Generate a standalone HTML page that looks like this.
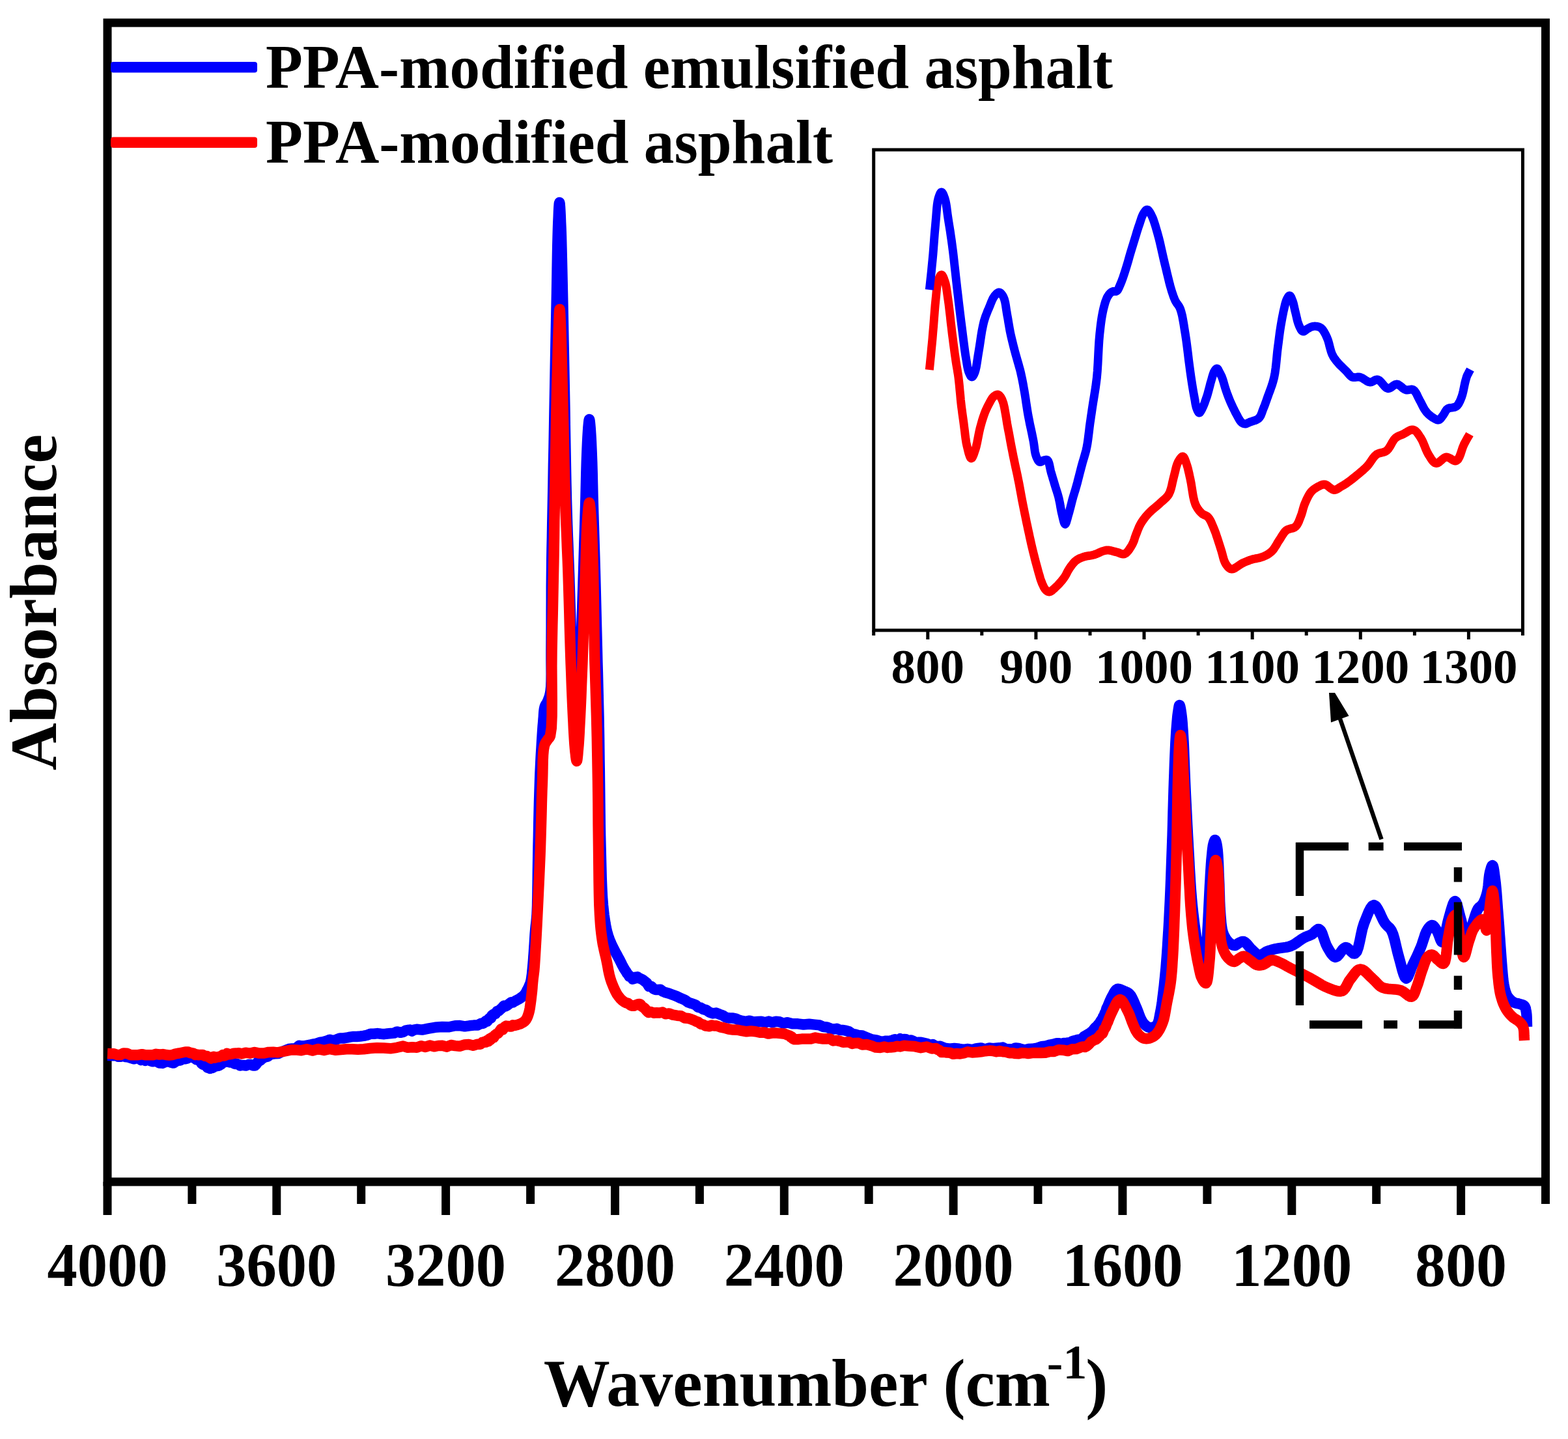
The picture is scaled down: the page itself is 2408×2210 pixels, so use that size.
<!DOCTYPE html>
<html><head><meta charset="utf-8"><title>FTIR spectra</title>
<style>
html,body{margin:0;padding:0;background:#fff;}
svg{display:block;}
.t{font-family:"Liberation Serif","Times New Roman",serif;font-weight:bold;fill:#000;}
</style></head>
<body>
<svg width="2408" height="2210" viewBox="0 0 2408 2210">
<rect x="0" y="0" width="2408" height="2210" fill="#fff"/>
<rect x="165.0" y="35.0" width="2208.5" height="1780.0" fill="none" stroke="#000" stroke-width="13"/>
<line x1="165.0" y1="1815.0" x2="165.0" y2="1866" stroke="#000" stroke-width="13"/>
<line x1="294.9" y1="1815.0" x2="294.9" y2="1849" stroke="#000" stroke-width="13"/>
<line x1="424.8" y1="1815.0" x2="424.8" y2="1866" stroke="#000" stroke-width="13"/>
<line x1="554.7" y1="1815.0" x2="554.7" y2="1849" stroke="#000" stroke-width="13"/>
<line x1="684.6" y1="1815.0" x2="684.6" y2="1866" stroke="#000" stroke-width="13"/>
<line x1="814.6" y1="1815.0" x2="814.6" y2="1849" stroke="#000" stroke-width="13"/>
<line x1="944.5" y1="1815.0" x2="944.5" y2="1866" stroke="#000" stroke-width="13"/>
<line x1="1074.4" y1="1815.0" x2="1074.4" y2="1849" stroke="#000" stroke-width="13"/>
<line x1="1204.3" y1="1815.0" x2="1204.3" y2="1866" stroke="#000" stroke-width="13"/>
<line x1="1334.2" y1="1815.0" x2="1334.2" y2="1849" stroke="#000" stroke-width="13"/>
<line x1="1464.1" y1="1815.0" x2="1464.1" y2="1866" stroke="#000" stroke-width="13"/>
<line x1="1594.0" y1="1815.0" x2="1594.0" y2="1849" stroke="#000" stroke-width="13"/>
<line x1="1723.9" y1="1815.0" x2="1723.9" y2="1866" stroke="#000" stroke-width="13"/>
<line x1="1853.9" y1="1815.0" x2="1853.9" y2="1849" stroke="#000" stroke-width="13"/>
<line x1="1983.8" y1="1815.0" x2="1983.8" y2="1866" stroke="#000" stroke-width="13"/>
<line x1="2113.7" y1="1815.0" x2="2113.7" y2="1849" stroke="#000" stroke-width="13"/>
<line x1="2243.6" y1="1815.0" x2="2243.6" y2="1866" stroke="#000" stroke-width="13"/>
<line x1="2373.5" y1="1815.0" x2="2373.5" y2="1849" stroke="#000" stroke-width="13"/>
<path d="M165.0,1621.0 L168.3,1621.1 L171.6,1621.2 L174.9,1621.3 L178.2,1620.3 L181.6,1622.8 L185.0,1622.8 L189.0,1621.7 L193.1,1623.1 L197.3,1623.7 L201.6,1625.1 L205.7,1626.3 L209.7,1624.7 L213.2,1625.0 L216.5,1628.1 L219.7,1627.3 L223.0,1628.9 L226.4,1626.9 L230.0,1628.8 L234.6,1630.3 L239.5,1629.5 L244.5,1632.5 L249.5,1632.9 L254.4,1630.5 L259.0,1630.5 L262.8,1631.8 L266.4,1632.6 L270.0,1630.1 L273.5,1628.7 L276.8,1628.5 L280.0,1626.5 L282.5,1626.4 L285.0,1626.2 L287.3,1625.5 L289.6,1623.8 L291.8,1623.3 L294.0,1623.1 L295.9,1624.1 L297.8,1624.0 L299.6,1623.7 L301.4,1627.2 L303.2,1627.2 L305.0,1628.5 L307.3,1628.6 L309.6,1633.3 L311.9,1635.1 L314.2,1634.9 L316.6,1637.3 L318.9,1639.7 L320.7,1640.1 L322.5,1640.9 L324.3,1639.0 L326.1,1640.0 L328.0,1639.1 L330.0,1637.4 L332.9,1637.2 L336.1,1636.6 L339.4,1634.7 L342.6,1632.0 L345.8,1630.9 L348.7,1628.5 L350.7,1629.2 L352.7,1631.4 L354.5,1630.7 L356.3,1630.7 L358.2,1632.6 L360.0,1633.6 L361.8,1634.1 L363.5,1633.7 L365.2,1634.5 L367.0,1635.3 L368.9,1636.6 L370.9,1636.1 L374.1,1636.0 L377.7,1636.5 L381.4,1635.1 L385.2,1634.9 L388.7,1636.6 L391.7,1636.5 L393.7,1634.1 L395.3,1632.0 L396.7,1629.6 L398.2,1628.8 L399.9,1628.6 L402.0,1626.4 L406.1,1623.6 L410.9,1622.7 L416.3,1619.0 L421.9,1618.3 L427.6,1618.1 L433.0,1615.2 L438.2,1613.2 L443.5,1611.0 L448.8,1610.4 L454.1,1610.2 L459.4,1605.7 L464.7,1606.9 L469.9,1605.9 L475.1,1605.0 L480.3,1603.6 L485.6,1602.8 L490.8,1601.0 L496.0,1600.2 L501.2,1598.8 L506.4,1596.7 L511.6,1598.3 L516.9,1596.4 L522.1,1594.4 L527.3,1594.5 L532.5,1593.7 L537.7,1592.6 L542.9,1591.9 L548.1,1591.9 L553.3,1591.5 L558.5,1590.9 L563.8,1589.7 L569.0,1587.8 L574.3,1587.8 L579.6,1587.1 L584.8,1587.8 L590.0,1588.2 L595.0,1587.5 L600.1,1587.0 L605.1,1586.6 L610.0,1584.4 L614.8,1585.8 L619.4,1584.9 L622.9,1582.6 L626.1,1582.0 L629.3,1581.6 L632.5,1583.6 L636.0,1581.6 L640.0,1580.8 L648.2,1581.6 L657.8,1579.7 L668.3,1577.8 L679.1,1577.0 L689.5,1577.2 L699.0,1575.2 L706.3,1575.1 L713.7,1576.3 L720.9,1575.3 L727.6,1574.6 L733.6,1574.4 L738.6,1571.8 L741.0,1572.0 L743.1,1571.0 L745.0,1569.0 L746.7,1567.4 L748.3,1568.6 L750.0,1566.0 L751.5,1563.9 L752.9,1564.0 L754.2,1563.4 L755.5,1559.6 L757.0,1558.3 L758.5,1557.4 L760.8,1557.2 L763.3,1553.1 L765.8,1552.5 L768.5,1550.1 L771.3,1547.6 L774.0,1544.6 L776.6,1545.5 L779.4,1543.6 L782.3,1541.4 L785.0,1539.3 L787.6,1539.6 L790.0,1538.0 L791.5,1537.2 L792.9,1536.5 L794.2,1535.8 L795.5,1535.1 L796.8,1534.4 L798.0,1533.6 L799.2,1532.8 L800.5,1531.9 L801.7,1531.0 L802.9,1530.1 L804.0,1529.1 L805.0,1528.0 L806.0,1526.8 L806.9,1525.6 L807.7,1524.3 L808.5,1522.9 L809.2,1521.5 L810.0,1520.0 L810.9,1518.2 L811.8,1516.3 L812.7,1514.4 L813.5,1512.4 L814.3,1510.2 L815.0,1508.0 L815.7,1505.0 L816.2,1501.9 L816.7,1498.6 L817.1,1495.1 L817.4,1491.6 L817.8,1488.0 L818.2,1483.6 L818.6,1479.1 L819.0,1474.4 L819.3,1469.6 L819.7,1464.8 L820.0,1460.0 L820.3,1455.0 L820.7,1450.0 L821.0,1444.9 L821.3,1439.9 L821.6,1434.9 L822.0,1430.0 L822.4,1425.8 L822.8,1421.8 L823.3,1418.0 L823.7,1413.9 L824.1,1409.3 L824.5,1404.0 L825.1,1390.7 L825.4,1374.4 L825.7,1356.2 L825.9,1337.1 L826.2,1318.0 L826.5,1300.0 L826.9,1282.9 L827.2,1265.6 L827.6,1248.3 L828.0,1231.4 L828.5,1215.2 L829.0,1200.0 L829.4,1188.9 L829.9,1178.3 L830.4,1168.0 L830.9,1158.2 L831.5,1148.9 L832.0,1140.0 L832.4,1133.5 L832.8,1127.2 L833.2,1121.2 L833.6,1115.5 L834.1,1110.1 L834.5,1105.0 L834.8,1101.4 L835.0,1098.0 L835.2,1094.7 L835.5,1091.6 L835.9,1088.7 L836.5,1086.0 L837.1,1084.3 L837.8,1082.8 L838.6,1081.4 L839.5,1080.1 L840.3,1078.6 L841.0,1077.0 L841.9,1074.9 L842.7,1072.7 L843.5,1070.4 L844.2,1068.0 L844.9,1065.2 L845.5,1062.0 L846.3,1054.4 L846.6,1045.3 L846.7,1034.9 L846.6,1023.8 L846.5,1012.0 L846.5,1000.0 L846.6,982.2 L846.7,962.8 L846.7,942.2 L846.8,921.2 L846.8,900.2 L847.0,880.0 L847.2,861.2 L847.5,842.8 L847.9,824.6 L848.2,806.0 L848.6,787.0 L849.0,767.0 L849.5,741.6 L849.9,715.0 L850.5,687.6 L851.0,659.8 L851.5,632.1 L852.0,605.0 L852.5,578.6 L853.0,551.8 L853.5,525.2 L854.0,499.0 L854.5,473.8 L855.0,450.0 L855.3,431.5 L855.6,413.3 L855.9,395.7 L856.2,379.1 L856.6,363.7 L857.0,350.0 L857.3,341.6 L857.7,332.8 L858.0,324.5 L858.4,317.6 L858.8,312.8 L859.2,311.0 L859.6,312.8 L860.0,317.6 L860.4,324.5 L860.8,332.8 L861.1,341.6 L861.5,350.0 L862.0,363.7 L862.4,379.1 L862.8,395.7 L863.2,413.3 L863.6,431.5 L864.0,450.0 L864.5,473.8 L865.0,499.0 L865.5,525.2 L866.0,551.8 L866.5,578.6 L867.0,605.0 L867.5,632.1 L867.9,659.8 L868.4,687.6 L868.9,715.0 L869.4,741.6 L870.0,767.0 L870.6,787.0 L871.2,806.0 L871.9,824.6 L872.6,842.8 L873.3,861.2 L874.0,880.0 L874.7,900.0 L875.3,920.4 L876.0,940.9 L876.6,961.1 L877.3,981.0 L878.0,1000.0 L878.6,1016.1 L879.2,1031.9 L879.9,1047.5 L880.5,1062.4 L881.2,1076.7 L882.0,1090.0 L882.6,1100.3 L883.3,1111.5 L884.0,1122.2 L884.7,1131.3 L885.4,1137.6 L886.0,1140.0 L886.5,1138.2 L887.1,1133.3 L887.6,1126.1 L888.1,1117.6 L888.6,1108.6 L889.0,1100.0 L889.6,1086.0 L890.1,1070.3 L890.6,1053.4 L891.0,1035.7 L891.5,1017.7 L892.0,1000.0 L892.6,980.5 L893.3,960.4 L894.0,940.0 L894.7,919.6 L895.4,899.5 L896.0,880.0 L896.5,862.8 L897.0,846.0 L897.5,829.4 L898.0,813.0 L898.5,796.6 L899.0,780.0 L899.5,762.8 L899.9,744.8 L900.3,726.9 L900.8,709.6 L901.4,693.8 L902.0,680.0 L902.4,672.1 L902.9,664.0 L903.4,656.4 L904.0,650.0 L904.5,645.6 L905.0,644.0 L905.5,645.6 L906.0,650.0 L906.6,656.4 L907.1,664.0 L907.6,672.1 L908.0,680.0 L908.6,693.8 L909.2,709.6 L909.7,726.9 L910.1,744.8 L910.5,762.8 L911.0,780.0 L911.5,796.6 L912.0,813.0 L912.5,829.4 L913.0,846.0 L913.5,862.8 L914.0,880.0 L914.5,899.5 L915.0,919.6 L915.5,940.0 L916.0,960.4 L916.5,980.5 L917.0,1000.0 L917.4,1017.2 L917.9,1034.0 L918.3,1050.6 L918.7,1067.0 L919.1,1083.4 L919.5,1100.0 L919.8,1116.7 L920.1,1133.3 L920.3,1150.0 L920.5,1166.7 L920.8,1183.3 L921.0,1200.0 L921.2,1216.7 L921.4,1233.5 L921.6,1250.3 L921.8,1267.1 L922.1,1283.6 L922.5,1300.0 L922.9,1315.7 L923.3,1331.7 L923.7,1347.6 L924.3,1362.9 L925.0,1377.2 L926.0,1390.0 L926.8,1397.8 L927.6,1405.1 L928.6,1411.9 L929.6,1418.3 L930.7,1424.4 L932.0,1430.0 L933.0,1433.8 L934.0,1437.2 L935.1,1440.4 L936.3,1443.6 L937.6,1446.7 L939.0,1450.0 L940.8,1453.8 L942.7,1457.7 L944.8,1461.7 L947.0,1465.6 L949.0,1469.4 L951.0,1473.0 L952.5,1476.0 L954.0,1479.0 L955.4,1481.9 L956.9,1484.7 L958.4,1487.4 L960.0,1490.0 L961.5,1492.1 L963.1,1495.0 L964.7,1496.6 L966.4,1499.5 L968.1,1499.6 L970.0,1501.4 L971.7,1503.6 L973.4,1503.1 L975.3,1501.0 L977.1,1502.0 L979.1,1500.2 L981.0,1502.2 L983.9,1503.1 L987.0,1504.6 L990.1,1507.1 L993.3,1509.5 L996.6,1514.8 L1000.0,1514.7 L1003.4,1518.4 L1006.9,1520.0 L1010.5,1519.9 L1014.2,1519.7 L1018.0,1522.7 L1022.0,1524.3 L1027.5,1525.8 L1033.4,1527.9 L1039.5,1530.3 L1045.6,1533.2 L1051.5,1535.6 L1057.0,1539.5 L1061.1,1540.8 L1064.9,1542.0 L1068.6,1543.6 L1072.2,1547.0 L1076.0,1547.7 L1080.0,1550.0 L1084.7,1551.3 L1089.7,1554.7 L1094.7,1556.4 L1099.8,1555.6 L1104.9,1557.7 L1110.0,1559.5 L1114.9,1562.7 L1119.7,1563.5 L1124.6,1563.5 L1129.5,1564.3 L1134.5,1566.6 L1139.6,1567.9 L1145.3,1568.9 L1151.2,1567.7 L1157.1,1569.4 L1163.1,1569.1 L1169.1,1568.7 L1175.0,1570.4 L1180.6,1568.6 L1186.1,1570.3 L1191.6,1568.8 L1197.2,1569.3 L1203.0,1571.7 L1209.0,1570.2 L1216.9,1572.2 L1225.3,1572.3 L1234.0,1573.5 L1242.7,1572.8 L1251.0,1573.6 L1258.7,1574.4 L1264.4,1577.0 L1269.8,1577.4 L1274.9,1579.5 L1280.0,1580.6 L1285.0,1579.8 L1290.0,1582.1 L1294.7,1582.0 L1299.3,1582.9 L1303.8,1584.2 L1308.4,1587.5 L1313.1,1588.5 L1318.0,1589.9 L1324.5,1590.5 L1331.6,1593.5 L1338.8,1596.4 L1345.9,1597.4 L1352.4,1599.5 L1358.0,1599.2 L1360.7,1598.7 L1363.1,1598.8 L1365.4,1599.8 L1367.5,1598.2 L1369.7,1598.6 L1372.0,1596.9 L1374.6,1596.2 L1377.2,1597.4 L1379.8,1597.5 L1382.4,1595.3 L1385.2,1597.3 L1388.0,1595.9 L1391.4,1596.3 L1395.0,1599.1 L1398.6,1597.4 L1402.4,1598.7 L1406.2,1601.6 L1410.0,1600.8 L1414.3,1600.7 L1418.7,1601.7 L1423.2,1602.7 L1427.8,1605.0 L1432.5,1604.1 L1437.5,1607.2 L1444.1,1606.8 L1451.0,1609.6 L1458.3,1610.7 L1465.6,1610.0 L1472.9,1610.8 L1480.0,1611.9 L1486.6,1611.0 L1493.3,1612.2 L1499.9,1610.1 L1506.4,1609.4 L1512.8,1611.6 L1519.0,1609.4 L1524.4,1610.2 L1529.6,1609.7 L1534.8,1609.3 L1539.9,1608.6 L1544.9,1611.1 L1550.0,1611.3 L1554.8,1611.5 L1559.6,1609.4 L1564.3,1610.0 L1569.0,1611.4 L1573.9,1612.5 L1579.0,1611.1 L1585.5,1610.8 L1592.3,1609.7 L1599.4,1607.2 L1606.4,1606.5 L1613.0,1604.5 L1619.0,1603.3 L1622.9,1602.3 L1626.6,1602.3 L1630.0,1603.9 L1633.4,1602.0 L1636.7,1602.0 L1640.0,1601.4 L1643.1,1601.6 L1646.1,1599.4 L1649.1,1598.5 L1652.1,1597.7 L1655.0,1596.7 L1658.0,1597.0 L1661.4,1595.4 L1664.9,1591.8 L1668.4,1589.7 L1671.8,1587.9 L1675.0,1585.6 L1678.0,1583.3 L1680.3,1580.3 L1682.5,1577.6 L1684.6,1576.1 L1686.5,1573.5 L1688.3,1572.5 L1690.0,1568.8 L1691.6,1566.2 L1693.0,1565.1 L1694.2,1561.3 L1695.5,1559.8 L1696.7,1556.0 L1698.0,1554.0 L1699.6,1548.3 L1701.2,1545.3 L1702.9,1541.1 L1704.6,1537.1 L1706.3,1533.3 L1708.0,1530.0 L1709.3,1527.7 L1710.5,1525.4 L1711.7,1523.2 L1713.0,1521.3 L1714.4,1519.9 L1716.0,1519.0 L1717.5,1518.8 L1719.2,1519.1 L1720.9,1519.6 L1722.6,1520.4 L1724.4,1521.2 L1726.0,1522.0 L1727.6,1522.6 L1729.1,1523.3 L1730.7,1523.9 L1732.2,1524.7 L1733.6,1525.7 L1735.0,1527.0 L1736.9,1529.4 L1738.6,1532.5 L1740.3,1536.0 L1741.9,1539.7 L1743.4,1543.4 L1745.0,1547.0 L1746.6,1550.9 L1748.2,1555.0 L1749.7,1559.2 L1751.3,1563.3 L1753.1,1566.9 L1755.0,1570.0 L1756.5,1571.9 L1758.1,1573.6 L1759.7,1575.2 L1761.5,1576.4 L1763.2,1577.4 L1765.0,1578.0 L1766.8,1578.2 L1768.8,1578.1 L1770.8,1577.8 L1772.7,1577.1 L1774.5,1576.2 L1776.0,1575.0 L1777.6,1572.8 L1778.8,1569.9 L1779.8,1566.5 L1780.5,1562.8 L1781.2,1558.9 L1782.0,1555.0 L1783.0,1549.8 L1783.9,1544.2 L1784.8,1538.3 L1785.5,1532.2 L1786.3,1526.1 L1787.0,1520.0 L1787.8,1513.7 L1788.4,1507.4 L1789.1,1501.0 L1789.7,1494.5 L1790.4,1487.5 L1791.0,1480.0 L1791.9,1468.4 L1792.8,1455.7 L1793.6,1442.3 L1794.5,1428.4 L1795.3,1414.2 L1796.0,1400.0 L1796.8,1384.0 L1797.5,1367.5 L1798.2,1350.7 L1798.8,1333.7 L1799.4,1316.8 L1800.0,1300.0 L1800.6,1283.1 L1801.1,1266.0 L1801.5,1248.9 L1802.0,1232.0 L1802.5,1215.6 L1803.0,1200.0 L1803.5,1187.3 L1803.9,1174.9 L1804.4,1162.7 L1804.9,1151.1 L1805.4,1140.1 L1806.0,1130.0 L1806.4,1123.3 L1806.9,1116.8 L1807.4,1110.6 L1807.9,1104.9 L1808.4,1099.6 L1809.0,1095.0 L1809.4,1092.4 L1809.8,1089.6 L1810.2,1087.1 L1810.6,1085.0 L1811.0,1083.5 L1811.4,1083.0 L1811.8,1083.5 L1812.3,1085.0 L1812.7,1087.1 L1813.2,1089.6 L1813.6,1092.3 L1814.0,1095.0 L1814.6,1099.6 L1815.2,1104.9 L1815.7,1110.6 L1816.1,1116.8 L1816.6,1123.3 L1817.0,1130.0 L1817.6,1140.1 L1818.1,1151.1 L1818.5,1162.7 L1819.0,1174.9 L1819.5,1187.3 L1820.0,1200.0 L1820.7,1215.8 L1821.5,1232.4 L1822.4,1249.6 L1823.2,1266.8 L1824.1,1283.8 L1825.0,1300.0 L1825.8,1314.0 L1826.5,1327.8 L1827.3,1341.4 L1828.1,1354.6 L1829.0,1367.5 L1830.0,1380.0 L1831.0,1390.5 L1832.1,1401.0 L1833.3,1411.2 L1834.5,1420.9 L1835.8,1429.9 L1837.0,1438.0 L1837.8,1442.7 L1838.6,1447.0 L1839.4,1451.0 L1840.2,1454.8 L1841.0,1458.5 L1842.0,1462.0 L1842.9,1465.1 L1843.8,1468.4 L1844.7,1471.6 L1845.7,1474.4 L1846.6,1476.3 L1847.5,1477.0 L1848.3,1476.2 L1849.2,1474.1 L1850.0,1471.1 L1850.7,1467.5 L1851.4,1463.7 L1852.0,1460.0 L1852.8,1454.4 L1853.4,1448.2 L1853.8,1441.6 L1854.2,1434.6 L1854.6,1427.3 L1855.0,1420.0 L1855.5,1410.6 L1856.0,1400.6 L1856.5,1390.2 L1857.0,1379.8 L1857.5,1369.6 L1858.0,1360.0 L1858.5,1351.9 L1858.9,1343.8 L1859.4,1335.9 L1859.9,1328.3 L1860.4,1321.3 L1861.0,1315.0 L1861.4,1311.2 L1861.7,1307.7 L1862.1,1304.3 L1862.5,1301.2 L1862.9,1298.4 L1863.5,1296.0 L1863.9,1294.6 L1864.3,1293.3 L1864.7,1292.0 L1865.1,1291.0 L1865.6,1290.2 L1866.0,1290.0 L1866.5,1290.4 L1867.1,1291.6 L1867.6,1293.3 L1868.1,1295.3 L1868.6,1297.6 L1869.0,1300.0 L1869.8,1306.1 L1870.4,1313.8 L1870.9,1322.6 L1871.3,1331.9 L1871.6,1341.2 L1872.0,1350.0 L1872.4,1358.5 L1872.6,1367.1 L1872.9,1375.7 L1873.1,1384.2 L1873.5,1392.3 L1874.0,1400.0 L1874.4,1405.9 L1874.9,1411.7 L1875.3,1417.3 L1876.0,1422.7 L1876.8,1427.6 L1878.0,1432.0 L1879.0,1434.8 L1880.2,1437.5 L1881.5,1439.9 L1882.9,1442.2 L1884.4,1444.2 L1886.0,1446.0 L1887.5,1447.5 L1889.2,1448.8 L1890.9,1450.1 L1892.7,1451.1 L1894.4,1451.7 L1896.0,1452.0 L1897.2,1451.8 L1898.4,1451.2 L1899.6,1450.4 L1900.7,1449.5 L1901.8,1448.6 L1903.0,1448.0 L1904.1,1447.5 L1905.3,1446.9 L1906.4,1446.4 L1907.6,1446.0 L1908.8,1445.9 L1910.0,1446.0 L1911.9,1447.0 L1913.9,1448.7 L1915.9,1451.0 L1917.9,1453.5 L1919.9,1455.9 L1922.0,1458.0 L1924.0,1459.8 L1925.9,1461.7 L1927.9,1463.6 L1929.9,1465.3 L1932.0,1466.4 L1934.0,1467.0 L1935.9,1466.8 L1937.9,1466.0 L1939.9,1464.7 L1941.9,1463.4 L1943.9,1462.0 L1946.0,1461.0 L1948.2,1460.2 L1950.4,1459.5 L1952.7,1458.8 L1955.0,1458.2 L1957.5,1457.6 L1960.0,1457.0 L1963.4,1456.4 L1967.0,1455.9 L1970.8,1455.4 L1974.6,1454.9 L1978.4,1454.1 L1982.0,1453.0 L1985.7,1451.3 L1989.4,1449.1 L1993.0,1446.6 L1996.5,1444.1 L1999.8,1441.9 L2003.0,1440.0 L2005.1,1439.0 L2007.1,1438.2 L2009.0,1437.4 L2010.9,1436.7 L2012.7,1435.9 L2014.6,1435.0 L2016.5,1433.6 L2018.5,1431.8 L2020.4,1429.8 L2022.3,1428.2 L2024.1,1427.1 L2025.8,1427.0 L2028.2,1429.0 L2030.3,1433.1 L2032.2,1438.5 L2034.2,1444.5 L2036.3,1450.2 L2038.5,1454.8 L2040.4,1458.0 L2042.4,1461.4 L2044.5,1464.6 L2046.6,1467.3 L2048.8,1469.2 L2051.0,1470.0 L2053.4,1469.0 L2056.0,1466.3 L2058.6,1462.8 L2061.3,1459.1 L2064.0,1456.3 L2066.6,1455.0 L2069.0,1455.7 L2071.4,1457.6 L2073.9,1460.2 L2076.3,1462.6 L2078.6,1464.4 L2080.7,1464.6 L2083.7,1461.2 L2086.1,1454.4 L2088.2,1445.4 L2090.2,1435.5 L2092.3,1425.9 L2094.8,1418.0 L2097.1,1412.2 L2099.6,1406.0 L2102.1,1400.0 L2104.7,1394.9 L2107.3,1391.4 L2110.0,1390.0 L2112.8,1391.5 L2115.6,1395.6 L2118.6,1401.3 L2121.5,1407.6 L2124.3,1413.5 L2127.0,1418.0 L2128.8,1420.1 L2130.5,1421.9 L2132.2,1423.5 L2133.9,1425.1 L2135.5,1427.0 L2137.0,1429.4 L2139.2,1434.5 L2141.1,1440.8 L2142.8,1447.7 L2144.5,1455.0 L2146.2,1462.1 L2148.0,1468.8 L2149.8,1475.4 L2151.7,1482.7 L2153.6,1490.0 L2155.6,1496.3 L2157.5,1500.8 L2159.5,1502.6 L2161.0,1501.7 L2162.6,1499.2 L2164.1,1495.6 L2165.7,1491.3 L2167.3,1486.9 L2169.0,1483.0 L2171.1,1478.6 L2173.3,1474.0 L2175.6,1469.2 L2177.8,1464.4 L2180.0,1459.5 L2182.0,1454.8 L2183.8,1450.1 L2185.4,1445.1 L2187.0,1440.2 L2188.5,1435.5 L2190.2,1431.4 L2192.0,1428.0 L2193.2,1426.3 L2194.4,1424.6 L2195.7,1423.1 L2197.0,1422.0 L2198.3,1421.2 L2199.5,1421.0 L2200.8,1421.5 L2202.1,1422.6 L2203.3,1424.2 L2204.6,1426.1 L2205.8,1428.1 L2207.0,1430.0 L2208.4,1432.9 L2209.8,1436.5 L2211.2,1440.3 L2212.5,1443.7 L2213.7,1446.1 L2215.0,1447.0 L2216.7,1444.9 L2218.4,1439.8 L2220.0,1432.6 L2221.6,1424.5 L2223.3,1416.6 L2225.0,1410.0 L2226.5,1404.8 L2228.1,1399.0 L2229.8,1393.4 L2231.4,1388.6 L2233.0,1385.2 L2234.5,1384.0 L2236.0,1385.3 L2237.4,1388.7 L2238.8,1393.6 L2240.2,1399.2 L2241.6,1404.9 L2243.0,1410.0 L2244.5,1415.7 L2245.9,1422.4 L2247.4,1429.1 L2248.9,1435.1 L2250.4,1439.3 L2252.0,1441.0 L2253.4,1440.0 L2254.9,1437.2 L2256.5,1433.3 L2258.0,1428.7 L2259.5,1424.1 L2261.0,1420.0 L2262.4,1415.9 L2263.8,1411.6 L2265.1,1407.2 L2266.5,1403.0 L2268.0,1399.2 L2269.6,1396.0 L2270.8,1394.4 L2272.0,1393.2 L2273.3,1392.2 L2274.6,1391.1 L2275.9,1390.0 L2277.0,1388.5 L2278.4,1386.0 L2279.7,1383.2 L2280.9,1380.2 L2282.1,1376.9 L2283.1,1373.5 L2284.0,1370.0 L2284.9,1365.3 L2285.6,1360.0 L2286.1,1354.5 L2286.6,1349.2 L2287.2,1344.2 L2288.0,1340.0 L2288.6,1337.6 L2289.3,1335.1 L2290.0,1332.7 L2290.7,1330.8 L2291.4,1329.5 L2292.0,1329.0 L2292.8,1330.0 L2293.5,1332.6 L2294.2,1336.4 L2294.8,1340.9 L2295.4,1345.5 L2296.0,1350.0 L2296.8,1356.6 L2297.5,1363.9 L2298.2,1371.6 L2298.8,1379.7 L2299.4,1387.9 L2300.0,1396.0 L2300.7,1404.8 L2301.4,1414.0 L2302.1,1423.2 L2302.7,1432.4 L2303.4,1441.4 L2304.0,1450.0 L2304.5,1457.1 L2305.0,1464.1 L2305.5,1471.0 L2306.0,1477.6 L2306.5,1483.9 L2307.0,1490.0 L2307.4,1494.6 L2307.8,1499.0 L2308.2,1503.3 L2308.7,1507.4 L2309.3,1511.3 L2310.0,1515.0 L2310.6,1517.8 L2311.3,1520.5 L2312.0,1523.1 L2312.9,1525.5 L2313.8,1527.9 L2315.0,1530.0 L2316.2,1531.8 L2317.6,1533.5 L2319.1,1535.1 L2320.7,1536.6 L2322.3,1537.9 L2324.0,1539.0 L2325.6,1539.8 L2327.3,1540.3 L2329.0,1540.8 L2330.7,1541.1 L2332.4,1541.5 L2334.0,1542.0 L2335.3,1542.4 L2336.6,1542.8 L2337.8,1543.2 L2339.0,1543.6 L2340.1,1544.2 L2341.0,1545.0 L2341.8,1546.2 L2342.5,1547.7 L2343.0,1549.3 L2343.3,1551.1 L2343.7,1553.0 L2344.0,1555.0 L2344.4,1558.2 L2344.6,1561.7 L2344.7,1565.4 L2344.8,1569.3 L2344.9,1573.2 L2345.0,1577.0" fill="none" stroke="#0000ff" stroke-width="16.5" stroke-linejoin="round" stroke-linecap="butt"/>
<path d="M165.0,1618.0 L170.0,1618.2 L174.9,1618.3 L179.9,1620.0 L184.8,1620.1 L189.9,1617.4 L195.0,1617.7 L200.6,1620.3 L206.4,1620.2 L212.2,1620.2 L218.1,1619.2 L223.8,1620.3 L229.5,1620.3 L234.7,1620.2 L239.8,1618.8 L244.9,1619.5 L250.0,1619.1 L255.0,1620.0 L260.0,1620.6 L265.0,1620.1 L270.0,1618.3 L275.1,1617.5 L280.0,1616.5 L284.7,1615.5 L289.0,1615.5 L291.9,1617.2 L294.6,1617.1 L297.2,1617.8 L299.8,1620.1 L302.3,1619.5 L305.0,1620.2 L308.1,1619.9 L311.3,1620.0 L314.6,1621.8 L317.8,1622.0 L321.0,1623.8 L323.9,1625.6 L326.1,1624.5 L328.1,1622.7 L330.1,1624.6 L332.0,1623.9 L334.0,1623.2 L336.0,1623.3 L338.1,1622.4 L340.1,1622.0 L342.1,1620.0 L344.2,1621.5 L346.4,1620.9 L348.7,1617.9 L352.0,1619.3 L355.4,1618.8 L359.0,1617.7 L362.7,1617.6 L366.7,1617.2 L370.9,1618.4 L377.1,1616.7 L383.8,1617.7 L390.9,1616.0 L398.2,1617.6 L405.5,1617.5 L412.6,1615.9 L419.5,1615.8 L426.3,1616.4 L433.2,1615.2 L440.1,1613.9 L447.1,1612.5 L454.3,1612.4 L462.6,1613.3 L471.2,1611.2 L480.0,1613.4 L488.8,1611.1 L497.6,1613.0 L506.4,1610.9 L515.0,1612.8 L523.6,1612.0 L532.2,1611.3 L540.8,1611.3 L549.6,1611.7 L558.5,1611.3 L568.5,1610.0 L578.8,1609.2 L589.2,1609.6 L599.5,1610.3 L609.5,1608.8 L619.0,1606.6 L626.3,1608.8 L633.3,1608.3 L640.1,1608.7 L646.7,1606.3 L653.3,1607.9 L660.0,1605.6 L666.6,1607.3 L673.1,1606.0 L679.6,1605.8 L686.0,1607.7 L692.5,1605.0 L699.0,1606.1 L705.8,1606.8 L712.9,1604.6 L719.9,1604.1 L726.7,1605.8 L732.8,1603.7 L738.0,1603.7 L740.5,1600.8 L742.6,1601.2 L744.6,1599.7 L746.4,1600.5 L748.2,1597.7 L750.0,1599.5 L751.7,1595.5 L753.4,1596.7 L755.0,1593.3 L756.6,1592.8 L758.3,1593.4 L760.0,1589.9 L762.3,1588.0 L764.7,1587.2 L767.2,1583.8 L769.7,1580.3 L772.3,1581.2 L775.0,1576.9 L777.4,1575.6 L780.0,1575.9 L782.6,1576.4 L785.2,1576.5 L787.7,1574.2 L790.0,1575.0 L791.8,1574.6 L793.6,1574.1 L795.3,1573.7 L796.9,1573.2 L798.5,1572.7 L800.0,1572.0 L801.3,1571.3 L802.6,1570.6 L803.8,1569.9 L804.9,1569.0 L806.0,1568.1 L807.0,1567.0 L808.1,1565.5 L809.0,1563.9 L809.8,1562.2 L810.6,1560.3 L811.3,1558.2 L812.0,1556.0 L812.9,1552.5 L813.7,1548.5 L814.3,1544.2 L814.9,1539.8 L815.5,1535.3 L816.0,1531.0 L816.5,1526.6 L817.0,1522.2 L817.4,1517.7 L817.7,1513.3 L818.1,1509.0 L818.5,1505.0 L818.8,1502.1 L819.2,1499.4 L819.5,1496.8 L819.8,1494.2 L820.2,1491.3 L820.5,1488.0 L821.0,1481.5 L821.5,1474.0 L822.0,1465.9 L822.5,1457.3 L823.0,1448.6 L823.5,1440.0 L824.0,1430.5 L824.5,1420.8 L825.0,1411.0 L825.5,1400.9 L826.0,1390.6 L826.5,1380.0 L827.1,1367.4 L827.7,1354.5 L828.3,1341.3 L828.9,1327.8 L829.5,1314.0 L830.0,1300.0 L830.5,1283.6 L831.0,1266.4 L831.5,1248.8 L831.9,1231.5 L832.4,1215.1 L833.0,1200.0 L833.3,1189.3 L833.5,1178.7 L833.7,1168.5 L834.1,1159.2 L834.8,1151.2 L836.0,1145.0 L836.7,1143.0 L837.5,1141.3 L838.4,1139.8 L839.3,1138.5 L840.2,1137.3 L841.0,1136.0 L841.7,1135.0 L842.4,1134.2 L843.1,1133.5 L843.8,1132.6 L844.4,1131.5 L845.0,1130.0 L846.8,1118.1 L847.6,1099.0 L847.7,1075.2 L847.5,1049.2 L847.3,1023.3 L847.5,1000.0 L847.9,979.7 L848.3,959.5 L848.8,939.5 L849.2,919.6 L849.6,899.7 L850.0,880.0 L850.4,861.2 L850.7,842.8 L851.0,824.6 L851.3,806.0 L851.6,787.0 L852.0,767.0 L852.5,741.3 L852.9,713.9 L853.4,685.6 L853.9,657.5 L854.4,630.3 L855.0,605.0 L855.5,585.3 L856.0,565.6 L856.5,546.6 L857.0,528.8 L857.5,513.1 L858.0,500.0 L858.2,494.3 L858.5,488.5 L858.7,483.3 L859.0,479.0 L859.2,476.1 L859.5,475.0 L859.8,476.1 L860.0,479.0 L860.3,483.3 L860.5,488.5 L860.8,494.3 L861.0,500.0 L861.5,513.1 L862.0,528.8 L862.5,546.6 L863.0,565.6 L863.5,585.4 L864.0,605.0 L864.6,630.3 L865.3,657.5 L865.9,685.6 L866.5,713.9 L867.2,741.3 L868.0,767.0 L868.7,787.0 L869.5,806.0 L870.3,824.6 L871.0,842.8 L871.8,861.2 L872.5,880.0 L873.1,899.9 L873.7,920.1 L874.3,940.5 L874.8,960.7 L875.4,980.6 L876.0,1000.0 L876.6,1017.6 L877.3,1035.3 L877.9,1052.7 L878.6,1069.5 L879.3,1085.4 L880.0,1100.0 L880.5,1109.6 L880.9,1118.8 L881.4,1127.6 L881.9,1135.7 L882.4,1143.2 L883.0,1150.0 L883.4,1154.1 L883.9,1158.4 L884.3,1162.4 L884.8,1165.8 L885.3,1168.1 L885.7,1169.0 L886.1,1168.1 L886.5,1165.8 L886.9,1162.4 L887.3,1158.4 L887.6,1154.1 L888.0,1150.0 L888.6,1143.2 L889.1,1135.7 L889.6,1127.6 L890.0,1118.8 L890.5,1109.6 L891.0,1100.0 L891.7,1085.4 L892.4,1069.5 L893.0,1052.7 L893.7,1035.3 L894.4,1017.6 L895.0,1000.0 L895.7,980.4 L896.4,959.9 L897.0,939.2 L897.7,918.6 L898.4,898.7 L899.0,880.0 L899.5,865.3 L899.9,850.6 L900.4,836.4 L900.8,823.0 L901.4,810.8 L902.0,800.0 L902.4,793.8 L902.9,787.5 L903.4,781.6 L904.0,776.6 L904.5,773.3 L905.0,772.0 L905.5,773.3 L906.0,776.6 L906.6,781.6 L907.1,787.5 L907.6,793.8 L908.0,800.0 L908.7,810.8 L909.2,823.0 L909.7,836.4 L910.2,850.6 L910.6,865.3 L911.0,880.0 L911.4,898.7 L911.8,918.6 L912.0,939.2 L912.3,959.9 L912.6,980.4 L913.0,1000.0 L913.4,1017.2 L914.0,1034.0 L914.5,1050.6 L915.0,1067.0 L915.5,1083.4 L916.0,1100.0 L916.4,1116.7 L916.8,1133.3 L917.1,1150.0 L917.4,1166.7 L917.7,1183.3 L918.0,1200.0 L918.2,1216.6 L918.4,1233.3 L918.5,1249.9 L918.6,1266.5 L918.8,1283.2 L919.0,1300.0 L919.2,1317.8 L919.4,1336.3 L919.6,1354.9 L919.9,1372.8 L920.3,1389.4 L921.0,1404.0 L921.5,1412.0 L922.0,1419.4 L922.6,1426.2 L923.3,1432.6 L924.1,1438.9 L925.0,1445.0 L925.8,1450.0 L926.8,1454.6 L927.8,1459.2 L928.8,1463.6 L929.9,1468.2 L931.0,1473.0 L932.2,1478.7 L933.3,1484.6 L934.4,1490.7 L935.7,1496.7 L937.2,1502.5 L939.0,1508.0 L940.9,1512.8 L942.9,1517.6 L945.1,1522.3 L947.5,1526.7 L950.2,1530.6 L953.0,1534.0 L955.6,1536.4 L958.4,1538.6 L961.4,1540.1 L964.4,1540.8 L967.3,1543.1 L970.0,1544.7 L971.9,1544.7 L973.8,1544.7 L975.6,1543.6 L977.4,1543.3 L979.2,1542.4 L981.0,1541.9 L983.4,1542.4 L985.7,1545.6 L988.0,1547.0 L990.5,1549.0 L993.1,1552.2 L996.0,1555.0 L999.8,1554.0 L1003.9,1555.7 L1008.2,1555.2 L1012.7,1555.5 L1017.4,1554.5 L1022.0,1557.3 L1027.6,1556.4 L1033.6,1558.7 L1039.7,1559.7 L1045.7,1560.3 L1051.6,1563.5 L1057.0,1564.0 L1061.1,1565.2 L1065.1,1566.7 L1068.9,1568.6 L1072.6,1569.9 L1076.3,1572.8 L1080.0,1573.5 L1083.3,1575.5 L1086.5,1575.8 L1089.6,1576.3 L1092.9,1574.4 L1096.3,1575.4 L1100.0,1575.3 L1105.8,1577.3 L1112.2,1578.6 L1118.9,1580.5 L1125.9,1581.6 L1132.8,1581.7 L1139.6,1583.2 L1146.4,1584.3 L1153.3,1583.5 L1160.2,1584.2 L1167.0,1585.7 L1173.6,1585.4 L1180.0,1587.6 L1185.3,1586.6 L1190.6,1586.4 L1195.7,1586.9 L1200.6,1587.3 L1205.1,1587.8 L1209.0,1589.5 L1211.1,1590.1 L1212.8,1590.6 L1214.4,1592.7 L1216.0,1592.5 L1217.8,1595.4 L1220.0,1596.3 L1225.1,1596.3 L1231.2,1595.6 L1238.1,1595.5 L1245.2,1595.4 L1252.2,1593.6 L1258.7,1594.8 L1264.1,1595.5 L1269.5,1595.2 L1274.7,1595.6 L1279.8,1598.4 L1284.9,1597.9 L1290.0,1599.1 L1294.7,1600.8 L1299.3,1600.6 L1303.8,1600.3 L1308.4,1602.9 L1313.1,1601.9 L1318.0,1601.7 L1324.3,1604.5 L1331.0,1604.1 L1337.9,1605.9 L1344.8,1608.6 L1351.6,1609.0 L1358.0,1607.6 L1363.2,1608.9 L1368.0,1608.4 L1372.8,1608.1 L1377.6,1606.8 L1382.6,1607.4 L1388.0,1605.8 L1395.9,1606.5 L1404.8,1607.1 L1414.1,1609.2 L1423.0,1607.5 L1431.1,1610.4 L1437.5,1610.1 L1440.1,1612.1 L1442.1,1612.7 L1443.9,1614.0 L1445.7,1616.0 L1447.7,1616.0 L1450.0,1615.9 L1454.2,1616.6 L1458.8,1616.7 L1463.9,1618.8 L1469.2,1618.0 L1474.6,1618.5 L1480.0,1617.5 L1486.3,1615.3 L1493.0,1616.5 L1499.8,1616.1 L1506.6,1615.3 L1513.2,1614.2 L1519.6,1613.6 L1524.9,1614.0 L1530.1,1615.2 L1535.1,1614.1 L1540.1,1615.2 L1545.0,1615.6 L1550.0,1617.3 L1554.8,1617.2 L1559.5,1618.1 L1564.3,1618.2 L1569.0,1617.1 L1573.9,1617.2 L1579.0,1618.0 L1585.3,1617.1 L1591.9,1617.0 L1598.6,1616.9 L1605.4,1616.8 L1612.3,1615.0 L1619.0,1614.9 L1625.8,1612.3 L1632.8,1612.7 L1639.8,1614.1 L1646.5,1611.2 L1652.9,1611.1 L1658.6,1608.8 L1662.5,1607.4 L1666.1,1608.0 L1669.5,1606.3 L1672.6,1603.4 L1675.6,1599.9 L1678.5,1598.4 L1680.7,1596.8 L1682.8,1596.6 L1684.7,1595.2 L1686.6,1593.1 L1688.3,1591.8 L1690.0,1588.9 L1691.6,1588.2 L1693.0,1587.4 L1694.3,1584.7 L1695.5,1580.7 L1696.7,1579.5 L1698.0,1577.6 L1699.7,1572.8 L1701.3,1569.6 L1702.8,1565.5 L1704.5,1561.4 L1706.2,1557.4 L1708.0,1553.6 L1709.8,1549.9 L1711.8,1545.8 L1713.8,1541.8 L1715.9,1538.3 L1718.0,1535.9 L1720.0,1535.0 L1722.0,1535.9 L1724.1,1538.2 L1726.2,1541.6 L1728.3,1545.5 L1730.2,1549.5 L1732.0,1553.0 L1733.6,1556.3 L1735.0,1559.7 L1736.2,1563.1 L1737.5,1566.5 L1738.7,1569.9 L1740.0,1573.0 L1741.1,1575.6 L1742.2,1578.1 L1743.3,1580.6 L1744.4,1582.9 L1745.7,1585.0 L1747.0,1587.0 L1748.2,1588.5 L1749.5,1589.9 L1750.8,1591.1 L1752.2,1592.3 L1753.6,1593.2 L1755.0,1594.0 L1756.3,1594.5 L1757.6,1594.9 L1758.9,1595.1 L1760.2,1595.2 L1761.6,1595.2 L1763.0,1595.0 L1764.9,1594.6 L1767.0,1593.9 L1769.1,1593.0 L1771.2,1591.9 L1773.2,1590.5 L1775.0,1589.0 L1777.1,1586.6 L1779.1,1583.8 L1781.0,1580.7 L1782.7,1577.2 L1784.3,1573.6 L1785.7,1570.0 L1787.2,1565.5 L1788.3,1560.6 L1789.3,1555.5 L1790.2,1550.3 L1791.1,1545.1 L1792.0,1540.0 L1793.0,1535.1 L1794.0,1530.2 L1795.0,1525.3 L1795.9,1520.3 L1796.8,1515.3 L1797.6,1510.0 L1798.4,1503.8 L1799.0,1497.5 L1799.6,1491.1 L1800.1,1484.4 L1800.5,1477.4 L1801.0,1470.0 L1801.6,1459.6 L1802.1,1448.6 L1802.6,1437.0 L1803.1,1425.0 L1803.5,1412.6 L1804.0,1400.0 L1804.5,1384.4 L1805.1,1368.0 L1805.6,1351.1 L1806.1,1334.0 L1806.6,1316.9 L1807.0,1300.0 L1807.4,1283.0 L1807.7,1265.6 L1808.0,1248.1 L1808.3,1231.1 L1808.6,1214.9 L1809.0,1200.0 L1809.3,1189.5 L1809.6,1179.2 L1809.9,1169.4 L1810.2,1160.3 L1810.6,1152.1 L1811.0,1145.0 L1811.3,1141.4 L1811.5,1137.8 L1811.8,1134.4 L1812.2,1131.6 L1812.5,1129.7 L1812.8,1129.0 L1813.1,1129.7 L1813.5,1131.6 L1813.9,1134.4 L1814.3,1137.8 L1814.7,1141.4 L1815.0,1145.0 L1815.6,1152.1 L1816.1,1160.5 L1816.6,1169.8 L1817.0,1179.7 L1817.5,1189.9 L1818.0,1200.0 L1818.6,1212.7 L1819.3,1226.3 L1820.0,1240.2 L1820.7,1254.2 L1821.3,1267.6 L1822.0,1280.0 L1822.5,1288.9 L1823.0,1297.2 L1823.5,1305.2 L1824.0,1313.1 L1824.5,1321.3 L1825.0,1330.0 L1825.6,1341.2 L1826.2,1353.2 L1826.9,1365.5 L1827.5,1377.7 L1828.2,1389.4 L1829.0,1400.0 L1829.6,1407.2 L1830.2,1413.8 L1830.8,1420.2 L1831.4,1426.4 L1832.2,1432.6 L1833.0,1439.0 L1834.0,1445.9 L1835.1,1453.1 L1836.3,1460.2 L1837.5,1467.2 L1838.7,1473.9 L1840.0,1480.0 L1840.9,1484.4 L1841.8,1488.7 L1842.7,1492.8 L1843.6,1496.7 L1844.7,1500.1 L1846.0,1503.0 L1846.9,1504.7 L1848.0,1506.4 L1849.0,1507.9 L1850.1,1509.1 L1851.1,1509.9 L1852.0,1510.0 L1853.3,1508.3 L1854.3,1504.5 L1855.1,1499.1 L1855.8,1492.8 L1856.4,1486.2 L1857.0,1480.0 L1857.8,1471.3 L1858.4,1461.7 L1858.8,1451.6 L1859.2,1441.1 L1859.6,1430.5 L1860.0,1420.0 L1860.5,1408.2 L1861.0,1395.5 L1861.5,1382.7 L1861.9,1370.4 L1862.4,1359.3 L1863.0,1350.0 L1863.3,1345.9 L1863.6,1342.1 L1863.9,1338.7 L1864.2,1335.6 L1864.6,1332.7 L1865.0,1330.0 L1865.3,1328.1 L1865.6,1326.1 L1865.9,1324.1 L1866.3,1322.5 L1866.6,1321.4 L1867.0,1321.0 L1867.5,1321.6 L1868.0,1323.2 L1868.5,1325.6 L1869.1,1328.5 L1869.6,1331.7 L1870.0,1335.0 L1870.8,1343.2 L1871.3,1353.4 L1871.8,1365.0 L1872.1,1377.2 L1872.5,1389.1 L1873.0,1400.0 L1873.3,1409.0 L1873.5,1418.0 L1873.7,1426.9 L1874.0,1435.3 L1874.8,1443.1 L1876.0,1450.0 L1877.1,1454.1 L1878.4,1457.9 L1879.8,1461.4 L1881.4,1464.6 L1883.1,1467.5 L1885.0,1470.0 L1886.5,1471.7 L1888.2,1473.3 L1889.9,1474.8 L1891.6,1475.9 L1893.4,1476.7 L1895.0,1477.0 L1896.4,1476.8 L1897.7,1476.1 L1899.1,1475.1 L1900.4,1474.0 L1901.7,1472.9 L1903.0,1472.0 L1904.2,1471.3 L1905.3,1470.5 L1906.5,1469.8 L1907.6,1469.1 L1908.8,1468.7 L1910.0,1468.6 L1911.6,1469.0 L1913.2,1469.9 L1914.9,1471.0 L1916.6,1472.4 L1918.3,1473.8 L1920.0,1475.0 L1921.7,1476.2 L1923.5,1477.6 L1925.2,1479.0 L1927.0,1480.3 L1928.7,1481.3 L1930.5,1482.0 L1932.1,1482.3 L1933.6,1482.5 L1935.2,1482.4 L1936.8,1482.2 L1938.4,1481.9 L1940.0,1481.5 L1942.0,1480.6 L1944.1,1479.3 L1946.3,1477.7 L1948.4,1476.3 L1950.5,1475.1 L1952.7,1474.5 L1954.7,1474.5 L1956.7,1474.8 L1958.7,1475.4 L1960.8,1476.2 L1962.9,1477.1 L1965.0,1478.0 L1967.7,1479.2 L1970.3,1480.6 L1973.1,1482.1 L1975.9,1483.7 L1978.9,1485.3 L1982.0,1487.0 L1986.3,1489.2 L1990.8,1491.4 L1995.6,1493.7 L2000.4,1496.1 L2005.3,1498.6 L2010.0,1501.0 L2014.8,1503.7 L2019.6,1506.5 L2024.4,1509.4 L2029.1,1512.2 L2033.9,1514.7 L2038.5,1516.7 L2042.4,1518.3 L2046.5,1519.9 L2050.4,1521.3 L2054.3,1522.3 L2057.8,1522.6 L2061.0,1522.0 L2063.6,1520.3 L2065.8,1517.6 L2067.8,1514.3 L2069.6,1510.7 L2071.5,1507.1 L2073.7,1504.0 L2076.1,1500.9 L2078.5,1497.6 L2081.0,1494.3 L2083.6,1491.4 L2086.2,1489.4 L2089.0,1488.5 L2092.1,1489.2 L2095.5,1491.2 L2098.9,1494.2 L2102.3,1497.7 L2105.7,1501.1 L2108.8,1504.0 L2111.2,1506.3 L2113.5,1508.6 L2115.6,1510.9 L2117.8,1513.1 L2120.2,1515.1 L2123.0,1516.7 L2127.1,1518.0 L2131.8,1518.7 L2136.8,1519.1 L2141.8,1519.4 L2146.7,1520.0 L2151.0,1521.0 L2154.3,1522.6 L2157.4,1524.8 L2160.4,1527.2 L2163.2,1529.3 L2165.7,1530.6 L2168.0,1530.7 L2169.8,1529.5 L2171.3,1527.4 L2172.6,1524.6 L2173.7,1521.5 L2174.8,1518.1 L2176.0,1515.0 L2177.4,1511.2 L2178.7,1507.0 L2180.0,1502.7 L2181.3,1498.4 L2182.6,1494.1 L2184.0,1490.0 L2185.4,1486.1 L2186.8,1482.1 L2188.2,1478.0 L2189.7,1474.4 L2191.3,1471.3 L2193.0,1469.0 L2194.0,1468.1 L2195.1,1467.4 L2196.2,1466.8 L2197.3,1466.5 L2198.4,1466.3 L2199.5,1466.4 L2200.9,1467.0 L2202.3,1468.1 L2203.7,1469.5 L2205.1,1471.1 L2206.5,1472.7 L2208.0,1474.0 L2209.5,1475.3 L2211.1,1476.8 L2212.7,1478.2 L2214.2,1479.4 L2215.7,1480.1 L2217.0,1480.0 L2219.0,1477.2 L2220.3,1471.5 L2221.3,1463.9 L2222.1,1455.4 L2222.9,1447.1 L2224.0,1440.0 L2225.1,1434.4 L2226.1,1428.7 L2227.2,1423.1 L2228.3,1417.9 L2229.6,1413.4 L2231.0,1410.0 L2231.8,1408.7 L2232.6,1407.4 L2233.5,1406.3 L2234.4,1405.5 L2235.2,1405.0 L2236.0,1405.0 L2237.4,1407.2 L2238.5,1412.0 L2239.4,1418.7 L2240.2,1426.2 L2241.1,1433.6 L2242.0,1440.0 L2242.9,1445.8 L2243.9,1452.4 L2244.8,1458.8 L2245.8,1464.5 L2246.8,1468.5 L2248.0,1470.0 L2249.2,1468.7 L2250.5,1465.3 L2251.8,1460.5 L2253.2,1455.0 L2254.6,1449.6 L2256.0,1445.0 L2257.2,1441.5 L2258.3,1438.1 L2259.4,1434.7 L2260.6,1431.5 L2262.0,1428.4 L2263.7,1425.5 L2265.7,1422.6 L2268.0,1419.5 L2270.4,1416.5 L2272.9,1414.0 L2275.1,1412.4 L2277.0,1412.0 L2278.4,1413.5 L2279.6,1416.8 L2280.6,1420.8 L2281.4,1424.8 L2282.2,1427.8 L2283.0,1429.0 L2283.9,1427.5 L2284.6,1423.6 L2285.2,1418.1 L2285.8,1411.9 L2286.3,1405.6 L2287.0,1400.0 L2287.8,1394.0 L2288.6,1387.1 L2289.5,1380.1 L2290.4,1374.0 L2291.2,1369.6 L2292.0,1368.0 L2292.7,1369.5 L2293.5,1373.6 L2294.2,1379.5 L2294.9,1386.3 L2295.5,1393.4 L2296.0,1400.0 L2296.5,1408.4 L2296.9,1417.4 L2297.2,1426.9 L2297.4,1436.5 L2297.7,1446.0 L2298.0,1455.0 L2298.3,1462.9 L2298.7,1470.7 L2299.0,1478.4 L2299.4,1485.9 L2299.9,1493.1 L2300.5,1500.0 L2301.1,1505.4 L2301.6,1510.7 L2302.3,1515.8 L2303.0,1520.7 L2303.9,1525.5 L2305.0,1530.0 L2306.1,1533.7 L2307.2,1537.3 L2308.5,1540.7 L2309.9,1544.0 L2311.4,1547.1 L2313.0,1550.0 L2314.5,1552.3 L2316.1,1554.5 L2317.7,1556.6 L2319.5,1558.5 L2321.2,1560.3 L2323.0,1562.0 L2324.6,1563.3 L2326.4,1564.5 L2328.2,1565.6 L2329.9,1566.6 L2331.5,1567.8 L2333.0,1569.0 L2334.2,1570.2 L2335.4,1571.4 L2336.4,1572.6 L2337.4,1573.9 L2338.3,1575.3 L2339.0,1577.0 L2339.8,1579.9 L2340.3,1583.2 L2340.5,1586.8 L2340.6,1590.6 L2340.8,1594.4 L2341.0,1598.0" fill="none" stroke="#ff0000" stroke-width="16.5" stroke-linejoin="round" stroke-linecap="butt"/>
<text x="165.0" y="1975" text-anchor="middle" class="t" font-size="96" textLength="185" lengthAdjust="spacingAndGlyphs">4000</text>
<text x="424.8" y="1975" text-anchor="middle" class="t" font-size="96" textLength="185" lengthAdjust="spacingAndGlyphs">3600</text>
<text x="684.6" y="1975" text-anchor="middle" class="t" font-size="96" textLength="185" lengthAdjust="spacingAndGlyphs">3200</text>
<text x="944.5" y="1975" text-anchor="middle" class="t" font-size="96" textLength="185" lengthAdjust="spacingAndGlyphs">2800</text>
<text x="1204.3" y="1975" text-anchor="middle" class="t" font-size="96" textLength="185" lengthAdjust="spacingAndGlyphs">2400</text>
<text x="1464.1" y="1975" text-anchor="middle" class="t" font-size="96" textLength="185" lengthAdjust="spacingAndGlyphs">2000</text>
<text x="1723.9" y="1975" text-anchor="middle" class="t" font-size="96" textLength="185" lengthAdjust="spacingAndGlyphs">1600</text>
<text x="1983.8" y="1975" text-anchor="middle" class="t" font-size="96" textLength="185" lengthAdjust="spacingAndGlyphs">1200</text>
<text x="2243.6" y="1975" text-anchor="middle" class="t" font-size="96" textLength="141" lengthAdjust="spacingAndGlyphs">800</text>
<g transform="translate(1268,0) scale(0.982,1) translate(-1268,0)"><text x="1268" y="2159" text-anchor="middle" class="t" font-size="104">Wavenumber (cm<tspan dx="-5" dy="-42" font-size="75">-1</tspan><tspan dx="-2" dy="42">)</tspan></text></g>
<text transform="translate(86,925) rotate(-90)" text-anchor="middle" class="t" font-size="101">Absorbance</text>
<rect x="170" y="95" width="225" height="16.5" rx="4" fill="#0000ff"/>
<rect x="170" y="210.5" width="225" height="16.5" rx="4" fill="#ff0000"/>
<text x="408" y="135" class="t" font-size="95" textLength="1301" lengthAdjust="spacingAndGlyphs">PPA-modified emulsified asphalt</text>
<text x="408" y="250" class="t" font-size="95" textLength="871" lengthAdjust="spacingAndGlyphs">PPA-modified asphalt</text>
<rect x="1341.7" y="230.0" width="996.8" height="738.0" fill="#fff" stroke="#000" stroke-width="5"/>
<line x1="1341.7" y1="968.0" x2="1341.7" y2="976.0" stroke="#000" stroke-width="5"/>
<line x1="1424.8" y1="968.0" x2="1424.8" y2="982.0" stroke="#000" stroke-width="5"/>
<line x1="1507.8" y1="968.0" x2="1507.8" y2="976.0" stroke="#000" stroke-width="5"/>
<line x1="1590.9" y1="968.0" x2="1590.9" y2="982.0" stroke="#000" stroke-width="5"/>
<line x1="1674.0" y1="968.0" x2="1674.0" y2="976.0" stroke="#000" stroke-width="5"/>
<line x1="1757.0" y1="968.0" x2="1757.0" y2="982.0" stroke="#000" stroke-width="5"/>
<line x1="1840.1" y1="968.0" x2="1840.1" y2="976.0" stroke="#000" stroke-width="5"/>
<line x1="1923.2" y1="968.0" x2="1923.2" y2="982.0" stroke="#000" stroke-width="5"/>
<line x1="2006.2" y1="968.0" x2="2006.2" y2="976.0" stroke="#000" stroke-width="5"/>
<line x1="2089.3" y1="968.0" x2="2089.3" y2="982.0" stroke="#000" stroke-width="5"/>
<line x1="2172.4" y1="968.0" x2="2172.4" y2="976.0" stroke="#000" stroke-width="5"/>
<line x1="2255.4" y1="968.0" x2="2255.4" y2="982.0" stroke="#000" stroke-width="5"/>
<line x1="2338.5" y1="968.0" x2="2338.5" y2="976.0" stroke="#000" stroke-width="5"/>
<text x="1424.8" y="1049" text-anchor="middle" class="t" font-size="75">800</text>
<text x="1590.9" y="1049" text-anchor="middle" class="t" font-size="75">900</text>
<text x="1757.0" y="1049" text-anchor="middle" class="t" font-size="75">1000</text>
<text x="1923.2" y="1049" text-anchor="middle" class="t" font-size="75">1100</text>
<text x="2089.3" y="1049" text-anchor="middle" class="t" font-size="75">1200</text>
<text x="2255.4" y="1049" text-anchor="middle" class="t" font-size="75">1300</text>
<path d="M1427.3,568.0 L1428.1,560.1 L1428.9,552.2 L1429.7,544.3 L1430.4,536.4 L1431.2,528.3 L1432.0,520.0 L1432.8,510.1 L1433.7,499.7 L1434.5,489.1 L1435.3,478.7 L1436.1,468.9 L1437.0,460.0 L1437.6,454.2 L1438.1,448.5 L1438.6,443.1 L1439.2,438.1 L1440.0,433.7 L1441.0,430.0 L1441.7,428.1 L1442.5,426.3 L1443.3,424.6 L1444.1,423.2 L1445.0,422.3 L1445.8,422.0 L1446.7,422.5 L1447.6,423.7 L1448.5,425.4 L1449.4,427.5 L1450.2,429.8 L1451.0,432.0 L1452.1,435.7 L1453.0,439.9 L1453.8,444.5 L1454.5,449.4 L1455.2,454.6 L1456.0,460.0 L1457.1,467.9 L1458.1,476.6 L1459.2,485.8 L1460.2,495.2 L1461.3,504.3 L1462.3,513.0 L1463.3,520.4 L1464.2,527.8 L1465.2,535.0 L1466.1,542.0 L1467.1,548.7 L1468.0,555.0 L1468.7,559.5 L1469.4,563.6 L1470.1,567.5 L1470.7,571.5 L1471.4,575.6 L1472.0,580.0 L1472.7,586.2 L1473.4,592.8 L1474.0,599.8 L1474.7,606.7 L1475.3,613.6 L1476.0,620.0 L1476.6,625.2 L1477.3,630.2 L1477.9,635.1 L1478.6,640.0 L1479.3,644.9 L1480.0,650.0 L1480.7,655.8 L1481.5,661.9 L1482.2,668.0 L1483.0,674.1 L1483.9,679.8 L1485.0,685.0 L1486.0,689.0 L1487.0,693.2 L1488.1,697.2 L1489.3,700.7 L1490.4,703.1 L1491.6,704.0 L1492.6,703.4 L1493.7,701.7 L1494.8,699.2 L1495.9,696.2 L1497.0,693.0 L1498.0,690.0 L1499.3,685.4 L1500.5,680.1 L1501.6,674.5 L1502.7,668.8 L1503.8,663.2 L1505.0,658.0 L1506.1,653.9 L1507.2,649.9 L1508.3,646.0 L1509.5,642.2 L1510.7,638.6 L1512.0,635.0 L1513.2,631.9 L1514.5,628.9 L1515.9,625.9 L1517.3,623.1 L1518.7,620.5 L1520.0,618.0 L1521.0,616.2 L1521.9,614.5 L1522.9,612.9 L1523.8,611.4 L1524.9,610.1 L1526.0,609.0 L1527.0,608.2 L1528.1,607.4 L1529.2,606.7 L1530.4,606.2 L1531.5,605.9 L1532.5,606.0 L1533.7,606.5 L1534.8,607.4 L1535.9,608.7 L1537.0,610.2 L1538.0,612.0 L1539.0,614.0 L1540.9,619.2 L1542.5,626.0 L1543.9,633.8 L1545.3,642.0 L1546.6,650.3 L1548.0,658.0 L1549.4,665.1 L1550.7,672.2 L1552.0,679.3 L1553.3,686.3 L1554.7,693.2 L1556.0,700.0 L1557.3,706.1 L1558.5,712.1 L1559.8,718.0 L1561.1,723.9 L1562.4,729.9 L1563.6,735.9 L1564.9,742.3 L1566.1,748.8 L1567.3,755.4 L1568.5,761.9 L1569.7,768.5 L1571.0,775.0 L1572.3,781.5 L1573.6,788.1 L1575.0,794.7 L1576.3,801.2 L1577.7,807.6 L1579.0,813.8 L1580.2,819.2 L1581.3,824.5 L1582.5,829.8 L1583.6,834.9 L1584.8,840.0 L1586.0,845.0 L1587.1,849.6 L1588.3,854.2 L1589.4,858.8 L1590.6,863.2 L1591.8,867.7 L1593.0,872.0 L1594.1,876.1 L1595.2,880.1 L1596.4,884.2 L1597.5,888.1 L1598.7,891.7 L1600.0,895.0 L1600.9,897.2 L1601.9,899.3 L1602.8,901.3 L1603.8,903.1 L1604.9,904.7 L1606.0,906.0 L1606.8,906.8 L1607.7,907.5 L1608.6,908.2 L1609.5,908.6 L1610.4,908.9 L1611.4,909.0 L1612.7,908.7 L1614.1,908.0 L1615.5,907.0 L1617.0,905.7 L1618.5,904.4 L1620.0,903.0 L1622.2,900.9 L1624.6,898.6 L1627.0,896.0 L1629.4,893.3 L1631.7,890.5 L1633.8,887.8 L1635.5,885.2 L1637.1,882.5 L1638.5,879.8 L1639.9,877.1 L1641.4,874.5 L1643.0,872.0 L1644.5,869.9 L1646.1,867.7 L1647.7,865.7 L1649.4,863.8 L1651.1,862.0 L1653.0,860.5 L1654.8,859.3 L1656.7,858.2 L1658.7,857.3 L1660.8,856.5 L1662.9,855.7 L1665.0,855.0 L1667.4,854.4 L1669.8,853.9 L1672.3,853.5 L1674.8,853.1 L1677.4,852.6 L1680.0,852.0 L1683.1,850.9 L1686.4,849.5 L1689.7,848.0 L1693.1,846.6 L1696.3,845.6 L1699.5,845.0 L1702.2,845.0 L1704.9,845.4 L1707.5,846.0 L1710.0,846.7 L1712.6,847.4 L1715.0,848.0 L1717.1,848.6 L1719.1,849.4 L1721.1,850.2 L1723.1,850.8 L1725.0,851.1 L1726.8,850.8 L1729.0,849.6 L1731.1,847.7 L1733.1,845.3 L1735.0,842.5 L1736.8,839.7 L1738.4,837.0 L1739.8,834.3 L1741.0,831.5 L1742.0,828.7 L1742.9,825.7 L1743.9,822.8 L1745.0,820.0 L1746.1,817.3 L1747.1,814.6 L1748.2,811.9 L1749.3,809.2 L1750.6,806.6 L1752.0,804.0 L1753.7,801.3 L1755.5,798.7 L1757.4,796.1 L1759.4,793.5 L1761.6,791.0 L1763.8,788.5 L1766.5,785.8 L1769.4,783.2 L1772.4,780.6 L1775.5,778.0 L1778.5,775.5 L1781.3,772.9 L1783.8,770.7 L1786.3,768.5 L1788.7,766.4 L1791.0,764.2 L1793.1,761.8 L1795.0,759.0 L1796.8,755.1 L1798.3,750.7 L1799.5,746.0 L1800.5,741.2 L1801.6,736.5 L1802.7,732.0 L1803.7,728.1 L1804.7,724.1 L1805.6,720.2 L1806.6,716.4 L1807.7,713.0 L1809.0,710.0 L1810.1,708.0 L1811.4,705.9 L1812.7,703.9 L1814.0,702.4 L1815.3,701.3 L1816.4,701.0 L1817.5,701.6 L1818.5,703.0 L1819.4,704.9 L1820.3,707.2 L1821.2,709.6 L1822.0,712.0 L1823.1,715.3 L1824.2,719.0 L1825.1,723.0 L1826.1,727.1 L1827.0,731.5 L1828.0,735.9 L1829.2,742.1 L1830.3,749.0 L1831.4,756.1 L1832.6,763.1 L1834.1,769.5 L1835.9,774.8 L1837.3,777.7 L1838.8,780.3 L1840.4,782.7 L1842.1,784.8 L1843.8,786.7 L1845.6,788.5 L1847.2,789.7 L1848.8,790.5 L1850.5,791.3 L1852.2,792.0 L1853.8,793.0 L1855.3,794.3 L1857.2,796.7 L1858.9,799.6 L1860.5,802.9 L1862.0,806.5 L1863.5,810.1 L1865.0,813.8 L1866.8,818.3 L1868.4,823.2 L1870.1,828.2 L1871.7,833.3 L1873.3,838.2 L1874.8,843.0 L1876.1,847.2 L1877.3,851.5 L1878.4,855.8 L1879.6,859.8 L1881.0,863.4 L1882.6,866.4 L1883.8,868.2 L1885.2,869.9 L1886.5,871.4 L1888.0,872.7 L1889.6,873.6 L1891.3,874.0 L1893.7,873.7 L1896.4,872.5 L1899.3,870.6 L1902.3,868.6 L1905.2,866.6 L1908.0,865.0 L1910.4,863.9 L1912.7,862.9 L1914.9,862.0 L1917.2,861.1 L1919.6,860.2 L1922.0,859.4 L1924.7,858.6 L1927.6,858.0 L1930.5,857.5 L1933.4,856.9 L1936.3,856.1 L1939.0,855.2 L1941.5,854.1 L1944.0,853.0 L1946.4,851.7 L1948.7,850.2 L1950.9,848.6 L1953.0,846.8 L1955.2,844.4 L1957.1,841.7 L1959.0,838.8 L1960.8,835.8 L1962.5,832.8 L1964.4,829.9 L1966.2,827.2 L1967.9,824.3 L1969.7,821.5 L1971.5,818.8 L1973.4,816.4 L1975.6,814.4 L1977.8,813.1 L1980.2,812.3 L1982.8,811.7 L1985.3,811.1 L1987.7,810.2 L1989.7,808.8 L1991.6,806.6 L1993.1,804.0 L1994.5,801.1 L1995.7,798.0 L1996.9,794.9 L1998.0,791.9 L1999.1,788.9 L2000.0,785.9 L2000.8,782.8 L2001.7,779.7 L2002.7,776.6 L2003.8,773.6 L2005.2,770.4 L2006.6,767.1 L2008.2,763.8 L2009.9,760.7 L2011.7,757.8 L2013.6,755.3 L2015.3,753.5 L2017.1,751.9 L2019.1,750.4 L2021.0,749.2 L2023.0,748.0 L2024.9,747.0 L2026.5,746.2 L2028.1,745.4 L2029.7,744.7 L2031.3,744.2 L2033.0,744.0 L2034.7,744.0 L2037.0,744.8 L2039.3,746.4 L2041.7,748.4 L2044.1,750.3 L2046.5,751.8 L2048.8,752.5 L2050.8,752.3 L2052.7,751.5 L2054.6,750.5 L2056.5,749.3 L2058.3,748.0 L2060.0,747.0 L2061.2,746.3 L2062.4,745.7 L2063.4,745.1 L2064.5,744.4 L2065.7,743.7 L2067.0,742.8 L2069.5,741.0 L2072.4,738.9 L2075.5,736.6 L2078.6,734.1 L2081.8,731.6 L2084.7,729.2 L2087.4,727.0 L2090.0,724.8 L2092.6,722.6 L2095.1,720.3 L2097.6,718.0 L2100.0,715.5 L2102.4,712.6 L2104.6,709.5 L2106.8,706.2 L2109.0,703.1 L2111.3,700.3 L2113.9,698.0 L2116.4,696.6 L2119.0,695.8 L2121.7,695.2 L2124.5,694.5 L2127.1,693.6 L2129.5,692.2 L2132.0,689.6 L2134.3,686.2 L2136.4,682.5 L2138.5,678.7 L2140.7,675.3 L2143.0,672.7 L2144.9,671.3 L2146.8,670.2 L2148.7,669.3 L2150.7,668.5 L2152.7,667.7 L2154.8,666.8 L2157.3,665.4 L2160.0,663.8 L2162.7,662.2 L2165.4,660.8 L2168.0,660.0 L2170.4,660.0 L2172.6,660.9 L2174.6,662.5 L2176.6,664.7 L2178.4,667.3 L2180.2,670.0 L2182.0,672.7 L2184.1,676.4 L2186.0,680.7 L2187.9,685.3 L2189.7,689.9 L2191.6,694.2 L2193.7,698.0 L2195.5,700.9 L2197.3,703.8 L2199.2,706.6 L2201.1,709.0 L2203.2,710.7 L2205.4,711.6 L2207.8,711.2 L2210.3,709.5 L2212.9,707.3 L2215.6,704.9 L2218.3,702.9 L2221.0,702.0 L2223.6,702.4 L2226.4,703.6 L2229.1,705.3 L2231.8,706.9 L2234.3,707.9 L2236.6,707.7 L2239.1,705.5 L2241.2,701.8 L2243.1,697.0 L2244.8,691.7 L2246.5,686.7 L2248.3,682.4 L2249.8,679.6 L2251.2,676.9 L2252.7,674.3 L2254.1,671.8 L2255.6,669.4 L2257.0,666.8" fill="none" stroke="#ff0000" stroke-width="13" stroke-linejoin="round" stroke-linecap="butt"/>
<path d="M1427.3,445.0 L1428.1,437.6 L1428.9,430.2 L1429.7,422.9 L1430.5,415.5 L1431.2,407.9 L1432.0,400.0 L1432.9,390.3 L1433.7,380.0 L1434.5,369.5 L1435.3,359.1 L1436.2,349.2 L1437.0,340.0 L1437.6,333.4 L1438.1,326.8 L1438.6,320.5 L1439.2,314.7 L1440.0,309.5 L1441.0,305.0 L1441.7,302.7 L1442.5,300.4 L1443.3,298.3 L1444.1,296.6 L1445.0,295.4 L1445.8,295.0 L1446.7,295.4 L1447.6,296.6 L1448.5,298.3 L1449.4,300.5 L1450.2,302.7 L1451.0,305.0 L1452.1,309.0 L1453.0,313.6 L1453.8,318.6 L1454.5,324.0 L1455.2,329.5 L1456.0,335.0 L1457.0,341.5 L1458.1,348.2 L1459.2,355.1 L1460.2,362.2 L1461.3,369.5 L1462.3,377.0 L1463.5,386.1 L1464.6,395.6 L1465.7,405.4 L1466.8,415.3 L1467.9,425.2 L1469.0,435.0 L1470.1,444.8 L1471.3,454.7 L1472.4,464.5 L1473.6,474.4 L1474.8,484.2 L1476.0,494.0 L1477.3,504.1 L1478.6,514.5 L1479.9,524.9 L1481.2,534.9 L1482.5,544.1 L1483.8,552.0 L1484.5,556.1 L1485.1,559.9 L1485.7,563.4 L1486.4,566.5 L1487.1,569.4 L1488.0,572.0 L1488.7,573.6 L1489.4,575.2 L1490.2,576.7 L1490.9,577.9 L1491.7,578.7 L1492.5,579.0 L1493.3,578.7 L1494.0,577.9 L1494.8,576.8 L1495.6,575.3 L1496.3,573.7 L1497.0,572.0 L1498.2,568.1 L1499.3,563.3 L1500.2,557.9 L1501.1,552.0 L1502.0,546.0 L1503.0,540.0 L1504.2,532.6 L1505.4,524.7 L1506.6,516.5 L1507.9,508.5 L1509.4,500.9 L1511.0,494.0 L1512.4,489.4 L1513.8,485.1 L1515.4,481.1 L1516.9,477.2 L1518.5,473.6 L1520.0,470.0 L1521.1,467.2 L1522.2,464.4 L1523.3,461.8 L1524.4,459.3 L1525.7,457.0 L1527.0,455.0 L1528.1,453.6 L1529.4,452.2 L1530.6,450.9 L1531.9,449.9 L1533.2,449.2 L1534.4,449.0 L1535.6,449.3 L1536.7,450.1 L1537.9,451.3 L1539.0,452.7 L1540.0,454.3 L1541.0,456.0 L1542.4,459.6 L1543.6,464.1 L1544.5,469.2 L1545.3,474.6 L1546.1,479.9 L1547.0,485.0 L1547.9,489.7 L1548.6,494.3 L1549.4,498.9 L1550.2,503.6 L1551.0,508.2 L1552.0,513.0 L1553.2,518.3 L1554.5,523.6 L1555.8,529.1 L1557.2,534.5 L1558.6,539.8 L1560.0,545.0 L1561.3,549.6 L1562.6,554.1 L1563.9,558.6 L1565.1,563.0 L1566.4,567.5 L1567.5,572.0 L1568.5,576.6 L1569.5,581.1 L1570.4,585.7 L1571.3,590.3 L1572.1,595.1 L1573.0,600.0 L1574.0,606.0 L1575.0,612.2 L1575.9,618.6 L1576.9,625.1 L1577.9,631.6 L1579.0,638.0 L1580.3,644.6 L1581.6,651.4 L1583.1,658.1 L1584.5,664.7 L1585.8,671.1 L1587.0,677.0 L1587.7,681.3 L1588.3,685.5 L1588.8,689.5 L1589.4,693.4 L1590.1,696.9 L1591.0,700.0 L1591.8,702.1 L1592.7,704.1 L1593.6,706.0 L1594.6,707.7 L1595.7,708.9 L1596.8,709.6 L1597.7,709.6 L1598.8,709.3 L1599.8,708.7 L1600.9,708.0 L1602.0,707.4 L1603.0,707.0 L1603.9,706.7 L1604.9,706.5 L1605.9,706.2 L1606.8,706.1 L1607.7,706.2 L1608.5,706.6 L1609.8,708.3 L1610.9,711.1 L1611.8,714.7 L1612.6,718.6 L1613.4,722.5 L1614.3,726.0 L1615.3,729.2 L1616.2,732.3 L1617.1,735.5 L1618.1,738.6 L1619.0,741.8 L1620.0,745.0 L1621.0,748.3 L1622.0,751.5 L1623.1,754.8 L1624.1,758.1 L1625.1,761.5 L1626.0,765.0 L1626.9,769.1 L1627.8,773.4 L1628.5,777.7 L1629.3,782.0 L1630.1,786.2 L1631.0,790.0 L1631.7,793.1 L1632.5,796.4 L1633.3,799.6 L1634.1,802.4 L1634.9,804.3 L1635.7,805.0 L1636.6,804.3 L1637.4,802.4 L1638.3,799.6 L1639.2,796.4 L1640.1,793.0 L1641.0,790.0 L1642.0,786.5 L1643.0,782.7 L1644.0,778.8 L1645.0,774.8 L1646.0,770.8 L1647.0,767.0 L1648.0,763.4 L1649.1,759.9 L1650.1,756.5 L1651.2,753.0 L1652.2,749.4 L1653.3,745.6 L1654.6,740.9 L1655.8,736.1 L1657.1,731.1 L1658.4,726.0 L1659.7,721.0 L1661.0,716.0 L1662.3,711.2 L1663.7,706.5 L1665.1,701.7 L1666.5,696.9 L1667.8,692.1 L1668.9,687.0 L1670.0,681.1 L1670.9,674.9 L1671.7,668.6 L1672.5,662.3 L1673.2,656.0 L1674.0,650.0 L1674.8,644.7 L1675.5,639.6 L1676.3,634.5 L1677.0,629.5 L1677.8,624.3 L1678.6,619.0 L1679.6,612.9 L1680.6,606.7 L1681.6,600.4 L1682.6,594.0 L1683.5,587.2 L1684.4,580.0 L1685.3,569.7 L1686.0,558.3 L1686.6,546.5 L1687.2,534.6 L1687.9,523.3 L1688.8,513.0 L1689.6,505.8 L1690.4,498.8 L1691.3,492.1 L1692.3,485.8 L1693.4,479.8 L1694.6,474.3 L1695.6,470.5 L1696.6,466.8 L1697.6,463.4 L1698.8,460.2 L1700.0,457.3 L1701.4,454.8 L1702.4,453.3 L1703.4,451.9 L1704.5,450.7 L1705.6,449.6 L1706.8,448.7 L1708.0,448.0 L1709.1,447.6 L1710.3,447.5 L1711.6,447.6 L1712.8,447.6 L1714.0,447.5 L1715.0,447.0 L1716.1,446.0 L1716.9,444.8 L1717.7,443.3 L1718.5,441.6 L1719.2,439.8 L1720.0,438.0 L1721.1,435.4 L1722.2,432.7 L1723.3,429.7 L1724.5,426.6 L1725.6,423.2 L1726.8,419.7 L1728.6,414.1 L1730.5,407.8 L1732.5,401.1 L1734.4,394.2 L1736.4,387.4 L1738.4,380.8 L1740.4,374.4 L1742.4,367.8 L1744.4,361.3 L1746.3,354.9 L1748.2,349.0 L1750.0,343.8 L1751.0,340.7 L1752.0,337.7 L1752.9,334.9 L1753.9,332.4 L1754.9,330.1 L1756.0,328.0 L1756.9,326.6 L1757.8,325.2 L1758.8,323.9 L1759.8,322.9 L1760.8,322.2 L1761.8,322.0 L1762.9,322.4 L1763.9,323.3 L1764.9,324.7 L1766.0,326.3 L1767.0,328.1 L1768.0,330.0 L1769.7,333.5 L1771.3,337.5 L1772.8,342.1 L1774.4,347.0 L1775.9,352.2 L1777.4,357.4 L1779.4,364.7 L1781.4,372.7 L1783.3,381.1 L1785.2,389.7 L1787.1,398.0 L1789.0,406.0 L1790.7,412.9 L1792.3,419.9 L1794.0,426.8 L1795.6,433.4 L1797.2,439.5 L1798.8,445.0 L1799.8,448.3 L1800.8,451.3 L1801.8,454.2 L1802.8,456.9 L1803.8,459.4 L1805.0,462.0 L1806.2,464.1 L1807.4,466.0 L1808.8,467.8 L1810.1,469.7 L1811.4,471.8 L1812.5,474.3 L1814.1,479.3 L1815.6,485.2 L1816.8,491.7 L1818.0,498.6 L1819.1,505.8 L1820.3,513.0 L1821.7,522.2 L1823.0,532.1 L1824.3,542.4 L1825.5,552.7 L1826.8,562.5 L1828.0,571.7 L1829.0,578.6 L1830.0,585.2 L1831.0,591.7 L1832.0,597.8 L1833.0,603.6 L1834.0,609.0 L1834.7,612.7 L1835.3,616.2 L1835.8,619.6 L1836.5,622.7 L1837.2,625.6 L1838.0,628.0 L1838.6,629.4 L1839.1,630.7 L1839.8,632.0 L1840.4,633.0 L1841.0,633.7 L1841.7,634.0 L1842.4,633.8 L1843.1,633.1 L1843.8,632.0 L1844.5,630.8 L1845.3,629.4 L1846.0,628.0 L1847.2,625.5 L1848.5,622.6 L1849.8,619.4 L1851.0,615.9 L1852.2,612.4 L1853.4,609.0 L1854.6,605.1 L1855.7,601.0 L1856.8,596.8 L1857.9,592.7 L1858.9,588.7 L1860.0,585.0 L1860.8,582.2 L1861.6,579.3 L1862.4,576.6 L1863.2,574.1 L1864.0,571.9 L1865.0,570.0 L1865.6,569.0 L1866.3,568.1 L1867.0,567.2 L1867.7,566.5 L1868.3,566.1 L1869.0,566.0 L1869.7,566.3 L1870.4,567.1 L1871.1,568.2 L1871.7,569.5 L1872.4,570.8 L1873.0,572.0 L1873.7,573.2 L1874.3,574.4 L1874.9,575.7 L1875.5,577.0 L1876.2,578.4 L1876.8,580.0 L1877.8,582.8 L1878.8,586.0 L1879.8,589.5 L1880.8,593.0 L1881.9,596.6 L1883.0,600.0 L1884.1,603.2 L1885.3,606.4 L1886.5,609.6 L1887.7,612.7 L1889.0,615.9 L1890.4,619.0 L1891.9,622.3 L1893.5,625.7 L1895.2,629.2 L1896.8,632.5 L1898.5,635.6 L1900.0,638.4 L1901.0,640.3 L1902.0,642.1 L1902.9,643.8 L1903.9,645.4 L1904.9,646.8 L1906.0,648.0 L1906.9,648.8 L1907.8,649.5 L1908.8,650.1 L1909.7,650.5 L1910.8,650.8 L1911.8,651.0 L1913.1,650.9 L1914.3,650.6 L1915.7,650.0 L1917.1,649.3 L1918.5,648.7 L1920.0,648.0 L1922.1,647.3 L1924.5,646.5 L1926.9,645.8 L1929.3,644.9 L1931.4,643.7 L1933.3,642.3 L1934.8,640.4 L1936.1,638.3 L1937.1,635.8 L1938.1,633.3 L1939.0,630.6 L1940.0,628.0 L1941.2,625.1 L1942.4,622.0 L1943.5,618.9 L1944.6,615.8 L1945.8,612.4 L1947.0,609.0 L1948.6,604.6 L1950.3,600.1 L1952.0,595.4 L1953.7,590.5 L1955.2,585.4 L1956.6,580.0 L1958.0,572.7 L1959.1,564.8 L1960.0,556.6 L1960.8,548.3 L1961.6,540.2 L1962.5,532.7 L1963.3,526.9 L1964.0,521.2 L1964.7,515.7 L1965.4,510.4 L1966.2,505.1 L1967.0,500.0 L1967.8,495.4 L1968.6,490.9 L1969.4,486.5 L1970.3,482.2 L1971.1,478.1 L1972.0,474.3 L1972.6,471.6 L1973.2,469.0 L1973.8,466.5 L1974.5,464.1 L1975.2,461.9 L1976.0,460.0 L1976.7,458.7 L1977.4,457.3 L1978.2,456.0 L1979.0,454.9 L1979.8,454.2 L1980.5,454.0 L1981.3,454.4 L1982.1,455.4 L1982.9,456.8 L1983.6,458.5 L1984.3,460.3 L1985.0,462.0 L1985.8,464.3 L1986.5,466.8 L1987.1,469.4 L1987.7,472.2 L1988.3,475.0 L1989.0,477.9 L1989.9,481.5 L1990.8,485.4 L1991.7,489.4 L1992.7,493.3 L1993.8,496.9 L1995.0,500.0 L1995.9,502.0 L1996.8,503.9 L1997.7,505.7 L1998.7,507.3 L1999.8,508.4 L2000.9,509.0 L2002.0,509.0 L2003.1,508.5 L2004.3,507.7 L2005.5,506.7 L2006.7,505.8 L2008.0,505.0 L2009.3,504.3 L2010.7,503.5 L2012.1,502.8 L2013.5,502.1 L2015.0,501.6 L2016.5,501.3 L2018.3,501.1 L2020.3,501.1 L2022.3,501.3 L2024.3,501.6 L2026.2,502.3 L2028.0,503.2 L2030.0,504.9 L2031.8,507.1 L2033.5,509.8 L2035.1,512.7 L2036.6,515.7 L2038.0,518.8 L2039.5,522.7 L2040.8,527.1 L2041.9,531.6 L2043.1,536.1 L2044.3,540.3 L2045.7,544.0 L2046.9,546.3 L2048.0,548.4 L2049.3,550.3 L2050.6,552.1 L2052.0,553.9 L2053.5,555.8 L2055.5,558.1 L2057.7,560.5 L2060.1,562.8 L2062.5,565.1 L2064.8,567.4 L2067.0,569.5 L2068.7,571.3 L2070.3,573.2 L2071.9,575.1 L2073.4,576.8 L2075.1,578.2 L2076.9,579.2 L2078.7,579.6 L2080.6,579.6 L2082.5,579.4 L2084.5,579.1 L2086.6,579.0 L2088.6,579.2 L2091.1,580.2 L2093.7,581.7 L2096.3,583.4 L2098.9,585.1 L2101.5,586.4 L2104.0,587.0 L2106.0,586.8 L2108.0,585.9 L2110.0,584.8 L2111.9,583.7 L2113.8,583.0 L2115.8,583.0 L2118.4,584.3 L2121.0,586.9 L2123.6,590.0 L2126.2,593.1 L2128.8,595.5 L2131.4,596.7 L2133.7,596.4 L2135.9,595.2 L2138.2,593.5 L2140.5,591.8 L2142.8,590.5 L2145.0,590.0 L2147.3,590.6 L2149.6,592.1 L2151.9,593.9 L2154.1,595.9 L2156.4,597.6 L2158.7,598.7 L2160.7,599.0 L2162.7,598.8 L2164.8,598.4 L2166.8,598.1 L2168.7,598.1 L2170.4,598.7 L2172.3,600.3 L2174.0,602.6 L2175.6,605.3 L2177.0,608.4 L2178.5,611.4 L2180.0,614.3 L2181.6,617.2 L2183.2,620.3 L2184.7,623.4 L2186.3,626.4 L2188.0,629.3 L2189.8,631.8 L2191.4,633.7 L2193.0,635.4 L2194.7,637.0 L2196.5,638.5 L2198.2,639.8 L2200.0,641.0 L2201.5,642.0 L2203.2,643.0 L2204.8,643.9 L2206.4,644.6 L2207.9,645.0 L2209.3,645.0 L2210.6,644.5 L2211.7,643.5 L2212.8,642.3 L2213.9,640.9 L2214.9,639.4 L2216.0,638.0 L2217.1,636.4 L2218.2,634.6 L2219.2,632.7 L2220.3,630.9 L2221.5,629.2 L2223.0,627.9 L2225.0,626.9 L2227.3,626.4 L2229.8,626.1 L2232.3,625.7 L2234.6,625.1 L2236.6,624.0 L2238.3,622.4 L2239.8,620.4 L2241.0,618.2 L2242.2,615.8 L2243.3,613.2 L2244.4,610.4 L2245.9,605.8 L2247.2,600.4 L2248.4,594.7 L2249.6,588.9 L2250.9,583.7 L2252.2,579.2 L2253.1,576.9 L2254.1,574.8 L2255.1,573.0 L2256.0,571.2 L2257.0,569.4 L2258.0,567.5" fill="none" stroke="#0000ff" stroke-width="13" stroke-linejoin="round" stroke-linecap="butt"/>
<line x1="1990" y1="1300" x2="2071" y2="1300" stroke="#000" stroke-width="12.5"/>
<line x1="2101.6" y1="1300" x2="2124.6" y2="1300" stroke="#000" stroke-width="12.5"/>
<line x1="2156" y1="1300" x2="2245" y2="1300" stroke="#000" stroke-width="12.5"/>
<line x1="2239" y1="1332" x2="2239" y2="1354.5" stroke="#000" stroke-width="12.5"/>
<line x1="2239" y1="1385.6" x2="2239" y2="1466.4" stroke="#000" stroke-width="12.5"/>
<line x1="2239" y1="1498.6" x2="2239" y2="1520" stroke="#000" stroke-width="12.5"/>
<line x1="2239" y1="1552" x2="2239" y2="1579.5" stroke="#000" stroke-width="12.5"/>
<line x1="2179" y1="1573.4" x2="2245" y2="1573.4" stroke="#000" stroke-width="12.5"/>
<line x1="2125" y1="1573.4" x2="2146" y2="1573.4" stroke="#000" stroke-width="12.5"/>
<line x1="2011" y1="1573.4" x2="2092" y2="1573.4" stroke="#000" stroke-width="12.5"/>
<line x1="1996" y1="1294" x2="1996" y2="1376" stroke="#000" stroke-width="12.5"/>
<line x1="1996" y1="1407" x2="1996" y2="1428" stroke="#000" stroke-width="12.5"/>
<line x1="1996" y1="1461" x2="1996" y2="1544" stroke="#000" stroke-width="12.5"/>
<line x1="2121.5" y1="1289" x2="2058" y2="1104" stroke="#000" stroke-width="6.5"/>
<polygon points="2041,1064 2050,1064 2071.5,1099.5 2044,1109.5" fill="#000"/>
</svg>
</body></html>
